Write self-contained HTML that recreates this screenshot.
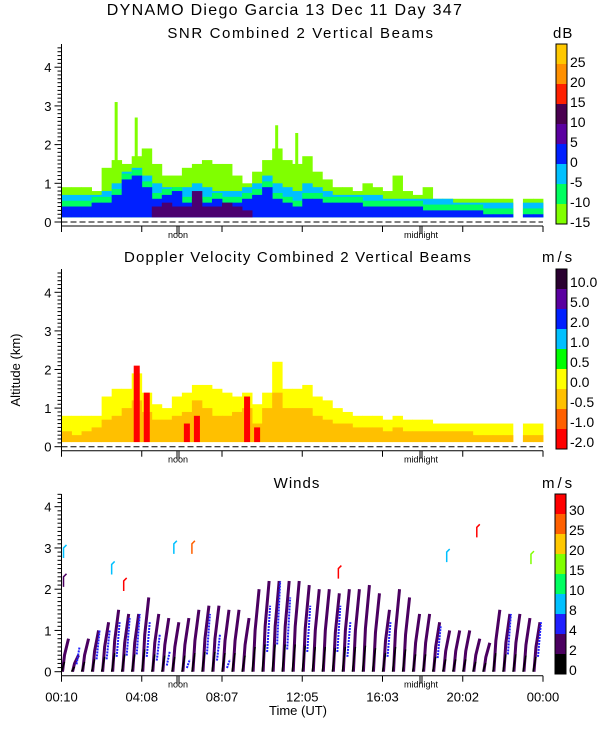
<!DOCTYPE html>
<html><head><meta charset="utf-8"><style>
html,body{margin:0;padding:0;background:#fff;width:600px;height:750px;overflow:hidden}
svg{display:block;font-family:"Liberation Sans",sans-serif}
text{font-size:13px;fill:#000}
.tt{font-size:15px;letter-spacing:1px}
</style></head><body>
<svg id="c" width="600" height="750" viewBox="0 0 600 750">
<text x="285" y="15" text-anchor="middle" class="tt" style="font-size:16px;letter-spacing:1.3px">DYNAMO Diego Garcia  13 Dec 11 Day 347</text>
<text x="301" y="38" text-anchor="middle" class="tt" style="letter-spacing:1.6px">SNR Combined 2 Vertical Beams</text>
<text x="553" y="38" class="tt">dB</text>
<text x="298" y="262" text-anchor="middle" class="tt" style="letter-spacing:1.2px">Doppler Velocity Combined 2 Vertical Beams</text>
<text x="542" y="262" class="tt" style="letter-spacing:3px">m/s</text>
<text x="297" y="488" text-anchor="middle" class="tt">Winds</text>
<text x="542" y="488" class="tt" style="letter-spacing:3px">m/s</text>
<text x="20" y="370" transform="rotate(-90 20 370)" text-anchor="middle">Altitude (km)</text>
<text x="298" y="715" text-anchor="middle">Time (UT)</text>
</svg>
<script>
// ---- data ----
const snrGreen=[0.9,0.9,0.9,0.8,1.4,1.6,1.5,1.7,1.9,1.5,1.2,1.2,1.4,1.5,1.6,1.5,1.5,1.2,1.0,1.3,1.6,1.9,1.6,1.5,1.7,1.3,1.1,0.9,0.9,0.8,1.0,0.9,0.8,1.2,0.8,0.7,0.9,0.6,0.6,0.6,0.6,0.6,0.6,0.6,0.6,0,0.6,0.6];
const snrCyan=[0.7,0.7,0.7,0.7,0.8,1.0,1.3,1.4,1.2,1.0,0.9,0.9,0.9,1.0,0.9,0.8,0.8,0.8,0.9,1.0,1.2,1.0,0.9,0.8,1.0,0.9,0.8,0.7,0.7,0.7,0.7,0.7,0.6,0.6,0.6,0.6,0.6,0.6,0.6,0.5,0.5,0.5,0.5,0.5,0.5,0,0.5,0.5];
const snrBlue=[0.4,0.4,0.4,0.5,0.5,0.7,1.1,1.2,0.9,0.6,0.7,0.8,0.5,0.6,0.5,0.6,0.5,0.5,0.6,0.7,0.9,0.6,0.5,0.4,0.6,0.6,0.5,0.5,0.5,0.5,0.4,0.4,0.4,0.4,0.4,0.4,0.3,0.3,0.3,0.3,0.3,0.3,0.2,0.2,0.2,0,0.2,0.2];
const snrPurple=[0,0,0,0,0,0,0,0,0,0.4,0.5,0.4,0.4,0.8,0.4,0.4,0.5,0.4,0.3,0,0,0,0,0,0,0,0,0,0,0,0,0,0,0,0,0,0,0,0,0,0,0,0,0,0,0,0,0];
const snrSpikes=[[5,3.1],[7,2.7],[21,2.5],[23,2.3]];
const dopYellow=[0.8,0.8,0.8,0.8,1.3,1.5,1.5,1.9,1.4,1.1,1.0,1.3,1.4,1.6,1.6,1.5,1.4,1.3,1.4,1.1,1.4,2.2,1.5,1.5,1.6,1.3,1.2,1.0,0.9,0.8,0.8,0.8,0.7,0.8,0.7,0.7,0.7,0.6,0.6,0.6,0.6,0.6,0.6,0.6,0.6,0,0.6,0.6];
const dopOrange=[0.4,0.3,0.4,0.5,0.7,0.8,1.0,1.2,0.9,0.7,0.7,0.8,0.9,1.2,1.0,0.8,0.8,0.9,1.0,0.6,1.0,1.4,1.0,1.0,1.0,0.8,0.7,0.6,0.6,0.5,0.5,0.5,0.4,0.5,0.4,0.4,0.4,0.4,0.4,0.4,0.4,0.3,0.3,0.3,0.3,0,0.3,0.3];
const dopRed=[0,0,0,0,0,0,0,2.1,1.4,0,0,0,0.6,0.8,0,0,0,0,1.3,0.5,0,0,0,0,0,0,0,0,0,0,0,0,0,0,0,0,0,0,0,0,0,0,0,0,0,0,0,0];
const windTop=[0.8,0.4,0.8,1.0,1.2,1.5,1.4,1.4,1.8,1.4,1.3,1.2,1.3,1.5,1.6,1.6,1.5,1.5,1.3,2.0,2.2,2.2,2.2,2.2,2.1,2.0,2.0,1.9,2.0,2.0,2.1,1.9,1.5,2.0,1.8,1.4,1.4,1.2,1.0,1.0,1.0,0.8,0.7,1.5,1.4,1.4,1.3,1.2];
const windBlue=[0,0.6,0,1.0,1.0,1.2,1.3,1.4,1.2,0.9,0.5,0,0.3,0,1.4,0.9,0.3,0,0,0,1.6,2.2,1.8,0,1.6,0,0,1.6,1.2,0,0,0,1.2,0,0,0,0,1.1,0,0,0,0,0,0,1.4,0,0,1.2];
const flagTime=[0.1,2.5,3.1,5.6,6.5,13.8,19.2,20.7,23.4,0.1];
const flagAlt=[3.0,2.6,2.2,3.1,3.1,2.5,2.9,3.5,2.85,2.3];
const flagColor=["#00c0ff","#00c0ff","#ff0000","#00c0ff","#ff6000","#ff0000","#00c0ff","#ff0000","#80ff00","#4b0060"];
const hTicks=["00:10","04:08","08:07","12:05","16:03","20:02","00:00"];
const snrLabels=["-15","-10","-5","0","5","10","15","20","25"];
const snrColors=["#80ff00","#00ff60","#00c0ff","#0020ff","#5a00a0","#4a0050","#ff2000","#ff9000","#ffc800"];
const dopLabels=["-2.0","-1.0","-0.5","0.0","0.5","1.0","2.0","5.0","10.0"];
const dopColors=["#ff0000","#ff6000","#ffc000","#ffff00","#00ff00","#00c0ff","#0020ff","#5a00a0","#2a0030"];
const windLabels=["0","2","4","8","10","15","20","25","30"];
const windColors=["#000000","#4b0060","#2020ff","#00c0ff","#00ff60","#80ff00","#ffc800","#ff6000","#ff0000"];
// ---- helpers ----
const svg=document.getElementById('c');const NS='http://www.w3.org/2000/svg';
function mk(t,a,p){const e=document.createElementNS(NS,t);for(const k in a)e.setAttribute(k,a[k]);(p||svg).appendChild(e);return e;}
const X0=61.5,X1=543,N=snrGreen.length;const bw=(X1-X0)/N;
const xb=i=>X0+i*bw;
const xt=h=>X0+h/24*(X1-X0);
function panel(name,y0,kpx,top){
  const g=mk('g',{});
  
  
  const y=h=>y0-h*kpx;
  return {g,y,y0,top,kpx};
}
function axes(P,name,showTimes){
  const g=P.g;
  mk('line',{x1:X0,y1:P.top,x2:X0,y2:P.y0+4,stroke:'#000'},g);
  mk('line',{x1:X0,y1:P.y0+4,x2:X1,y2:P.y0+4,stroke:'#000'},g);
  for(let k=0;k<=45;k++){const yy=P.y(k/10);if(yy<P.top)break;mk('line',{x1:X0-(k%10==0?7:4),y1:yy,x2:X0,y2:yy,stroke:'#000'},g);}
  for(let k=0;k<=4;k++){const t=mk('text',{x:X0-10,y:P.y(k)+5,'text-anchor':'end'},g);t.textContent=k;
    
    }
  for(let k=0;k<7;k++){const xx=X0+k*(X1-X0)/6;mk('line',{x1:xx,y1:P.y0+4,x2:xx,y2:P.y0+10,stroke:'#000'},g);
    if(showTimes){const t=mk('text',{x:xx,y:P.y0+30,'text-anchor':'middle'},g);t.textContent=hTicks[k];
      
      }}
  const nx=178,mx=421;
  [nx,mx].forEach(xx=>{mk('line',{x1:xx-1,y1:P.y0+4,x2:xx-1,y2:P.y0+12,stroke:'#000'},g);mk('line',{x1:xx+1,y1:P.y0+4,x2:xx+1,y2:P.y0+12,stroke:'#000'},g);});
  const tn=mk('text',{x:nx,y:P.y0+16,'text-anchor':'middle',style:'font-size:9px'},g);tn.textContent='noon';
  
  
  const tm=mk('text',{x:mx,y:P.y0+16,'text-anchor':'middle',style:'font-size:9px'},g);tm.textContent='midnight';
  
  
}
function cbar(name,x,top,colors,labels,lblY){
  const g=mk('g',{});
  
  
  const h=20;
  colors.forEach((c,i)=>{mk('rect',{x:x,y:top+(colors.length-1-i)*h,width:11,height:h,fill:c},g);});
  mk('rect',{x:x,y:top,width:11,height:h*colors.length,fill:'none',stroke:'#000'},g);
  labels.forEach((l,i)=>{const t=mk('text',{x:x+14,y:lblY(i)+5,style:'font-size:14px'},g);t.textContent=l;
    
    });
}
function layer(P,arr,color,lname,base){
  arr.forEach((v,i)=>{if(v<=0.12)return;const b=P.y(base||0.12);const r=mk('rect',{x:xb(i),y:P.y(v),width:bw+0.4,height:b-P.y(v),fill:color},P.g);
    
    });
}
function dashes(P){mk('line',{x1:X0,y1:P.y0,x2:X1,y2:P.y0,stroke:'#000','stroke-dasharray':'6,3'},P.g);}
// ---- SNR ----
const A=panel('snr',222,38.7,44);
snrSpikes.forEach(s=>{const r=mk('rect',{x:xb(s[0])+3,y:A.y(s[1]),width:3,height:A.y(1)-A.y(s[1]),fill:'#80ff00'},A.g);
  
  });
layer(A,snrGreen,'#80ff00','snr-cell');
layer(A,snrCyan,'#00c0ff','snr-cell');
layer(A,snrCyan.map((v,i)=>Math.min(v,snrBlue[i]+0.15)),'#00ff60','snr-cell');
layer(A,snrBlue,'#0020ff','snr-cell');
layer(A,snrPurple,'#4a0070','snr-cell');
dashes(A);axes(A,'snr',false);
cbar('snr',556,44,snrColors,snrLabels,i=>222-20*i);
// ---- Doppler ----
const B=panel('doppler',446.7,38.6,269);
layer(B,dopYellow,'#ffff00','doppler-cell');
layer(B,dopOrange,'#ffc000','doppler-cell');
dopRed.forEach((v,i)=>{if(v<=0.12)return;const r=mk('rect',{x:xb(i)+2,y:B.y(v),width:bw*0.6,height:B.y(0.12)-B.y(v),fill:'#ff0000'},B.g);
  
  });
dashes(B);axes(B,'doppler',false);
cbar('doppler',556,269,dopColors,dopLabels,i=>442-20*i);
// ---- Winds ----
const C=panel('winds',671.7,41.25,494);
windTop.forEach((v,i)=>{const x=xb(i)+1;
  const p=mk('polyline',{points:`${x},${C.y(0)} ${x+2},${C.y(v*0.5)} ${x+6},${C.y(v)}`,fill:'none',stroke:'#4b0060','stroke-width':3},C.g);
  
  
  if(windBlue[i]>0){const q=mk('line',{x1:x+4,y1:C.y(windBlue[i]*0.3),x2:x+7,y2:C.y(windBlue[i]),stroke:'#2020ff','stroke-width':2,'stroke-dasharray':'2,1'},C.g);
    
    }
  const k=mk('line',{x1:x-1,y1:C.y(0),x2:x+2,y2:C.y(v*0.3),stroke:'#000','stroke-width':1.5},C.g);
  
  
});
flagTime.forEach((t,i)=>{const x=xt(t),y=C.y(flagAlt[i]);
  const f=mk('polyline',{points:`${x},${y+10} ${x},${y} ${x+3},${y-3}`,fill:'none',stroke:flagColor[i],'stroke-width':1.5},C.g);
  
  });
axes(C,'winds',true);
cbar('winds',555,494,windColors,windLabels,i=>670-20*i);
</script>
</body></html>
